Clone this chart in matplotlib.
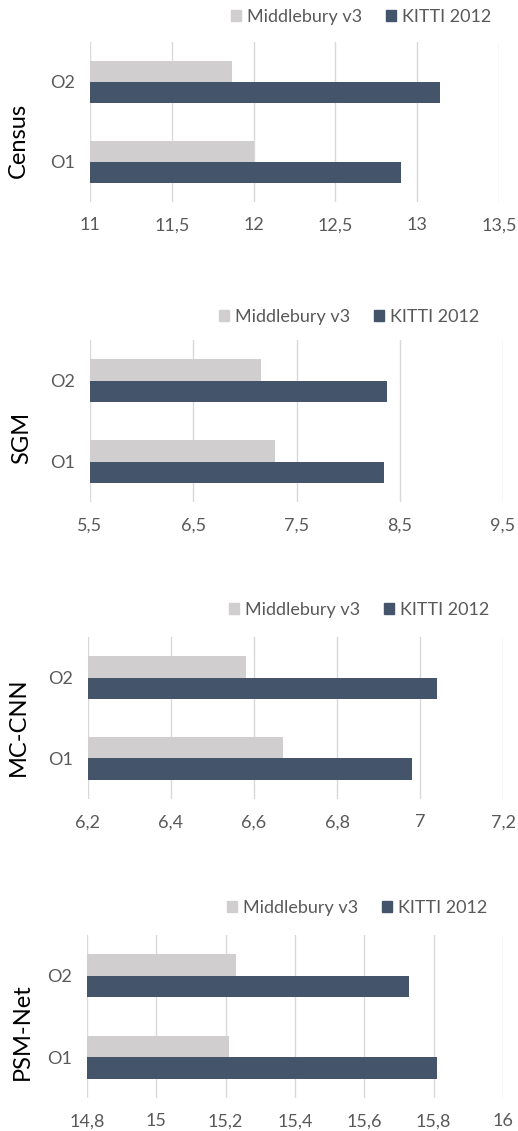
import matplotlib
matplotlib.use("Agg")
import matplotlib.pyplot as plt
from matplotlib.patches import Patch
from matplotlib.ticker import FuncFormatter
import numpy as np

plt.rcParams['font.family'] = ['Lato', 'DejaVu Sans']

categories = ["O1", "O2"]
series_names = ["Middlebury v3", "KITTI 2012"]

methods = ["Census", "SGM", "MC-CNN", "PSM-Net"]

census_middlebury = [12.00, 11.87]
census_kitti = [12.90, 13.14]
sgm_middlebury = [7.29, 7.16]
sgm_kitti = [8.35, 8.38]
mccnn_middlebury = [6.67, 6.58]
mccnn_kitti = [6.98, 7.04]
psmnet_middlebury = [15.21, 15.23]
psmnet_kitti = [15.81, 15.73]

census_ticks = [11, 11.5, 12, 12.5, 13, 13.5]
sgm_ticks = [5.5, 6.5, 7.5, 8.5, 9.5]
mccnn_ticks = [6.2, 6.4, 6.6, 6.8, 7.0, 7.2]
psmnet_ticks = [14.8, 15.0, 15.2, 15.4, 15.6, 15.8, 16.0]

panels = [
    (methods[0], census_middlebury, census_kitti, census_ticks),
    (methods[1], sgm_middlebury, sgm_kitti, sgm_ticks),
    (methods[2], mccnn_middlebury, mccnn_kitti, mccnn_ticks),
    (methods[3], psmnet_middlebury, psmnet_kitti, psmnet_ticks),
]

LIGHT = "#D0CECE"
DARK = "#44546A"
GRID = "#D9D9D9"
TXT = "#595959"

W, H = 518, 1131
fig = plt.figure(figsize=(W / 100, H / 100), dpi=100)

# plot-area boxes in pixels: left, right, top, bottom
boxes = [(90, 499, 42, 202), (90, 503, 340, 502), (88, 503, 637, 799), (87, 503, 935, 1098)]
ylabel_pos = [(18, 140), (22, 438), (18, 727), (22, 1032)]
legend_pos = [(361, 17), (349, 317), (359, 610), (357, 908)]

def comma_fmt(v, _):
    return ("%g" % round(v, 3)).replace(".", ",")

bar_h = 0.265
for (name, mid, kit, ticks), (l, r, t, b), (lx, ly), (gx, gy) in zip(panels, boxes, ylabel_pos, legend_pos):
    ax = fig.add_axes([l / W, 1 - b / H, (r - l) / W, (b - t) / H])
    y = np.arange(len(categories))
    base = ticks[0]
    ax.barh(y + bar_h / 2, np.array(mid) - base, left=base, height=bar_h, color=LIGHT, zorder=2)
    ax.barh(y - bar_h / 2, np.array(kit) - base, left=base, height=bar_h, color=DARK, zorder=2)
    ax.set_xlim(ticks[0], ticks[-1])
    ax.set_ylim(-0.5, 1.5)
    ax.set_xticks(ticks)
    ax.xaxis.set_major_formatter(FuncFormatter(comma_fmt))
    ax.set_yticks(y)
    ax.set_yticklabels(categories)
    for s in ax.spines.values():
        s.set_visible(False)
    ax.grid(axis="x", color=GRID, lw=1, zorder=0)
    ax.tick_params(axis="both", length=0, labelsize=13, colors=TXT)
    ax.tick_params(axis="x", pad=11)
    ax.tick_params(axis="y", pad=11)
    fig.text(lx / W, 1 - ly / H, name, rotation=90, ha="center", va="center",
             fontsize=17, color="black")
    handles = [Patch(color=LIGHT, label=series_names[0]), Patch(color=DARK, label=series_names[1])]
    fig.legend(handles=handles, loc="center", bbox_to_anchor=(gx / W, 1 - gy / H), ncol=2,
               frameon=False, fontsize=13, labelcolor=TXT, handlelength=0.55, handleheight=0.55,
               handletextpad=0.35, columnspacing=1.3, borderpad=0, borderaxespad=0)

fig.savefig("out.png", dpi=100, facecolor="white")
